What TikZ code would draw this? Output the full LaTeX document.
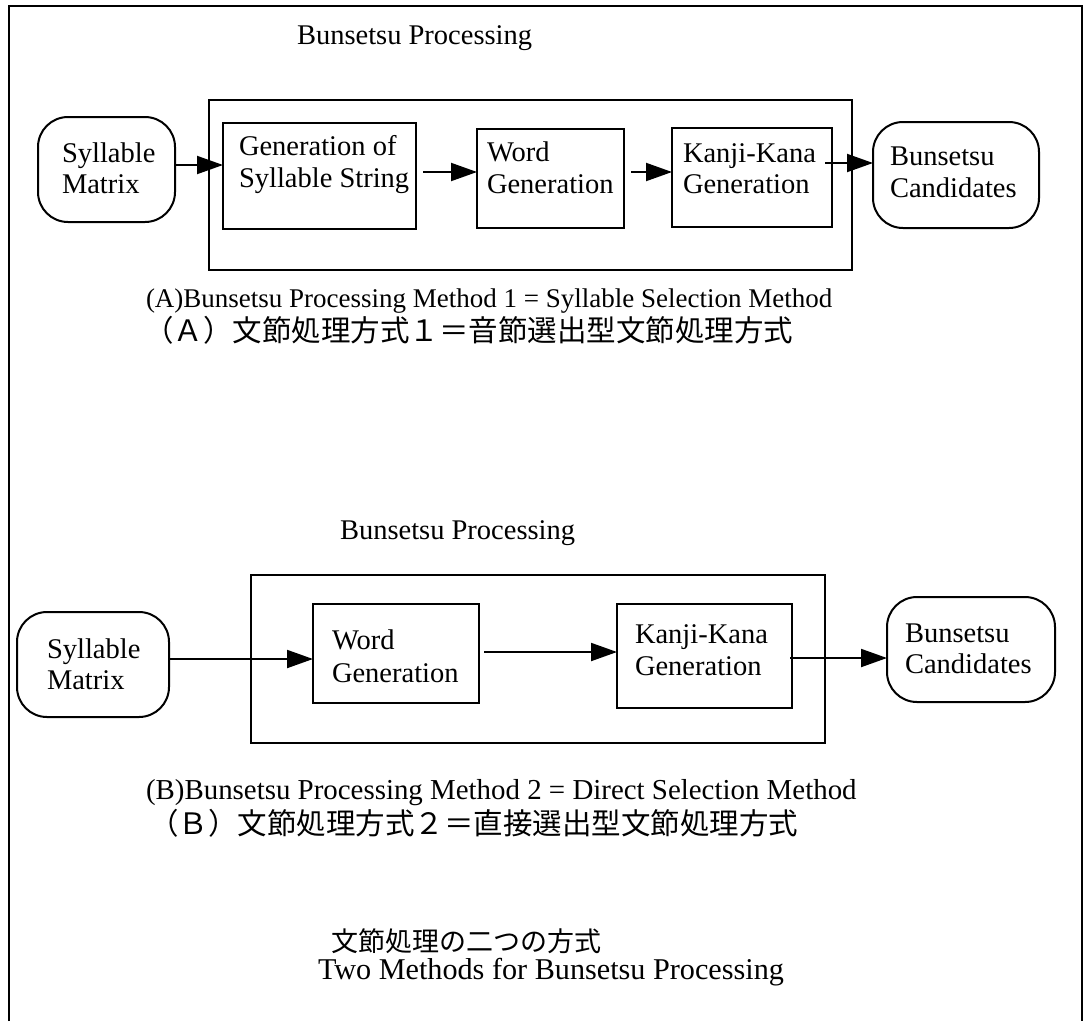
\documentclass[tikz,border=0pt]{standalone}
\usepackage{fontspec}
\setmainfont{Liberation Serif}
\newfontfamily\jpfont{Noto Sans CJK JP}
\usetikzlibrary{arrows.meta,calc}
\begin{document}
\begin{tikzpicture}[x=1pt,y=-1pt,
  every node/.style={inner sep=0pt,outer sep=0pt},
  frameline/.style={line width=2pt},
  box/.style={draw,line width=2pt,rectangle},
  rbox/.style={draw,line width=2pt,rectangle,rounded corners=30pt},
  txt/.style={anchor=base west,font=\fontsize{28.5}{31}\selectfont},
  jtxt/.style={anchor=base west,font=\jpfont\fontsize{29.5}{31}\selectfont},
  arr/.style={line width=2pt,-{Triangle[length=26pt,width=18pt]}}]
\useasboundingbox (0,0) rectangle (1084,1021);

% page frame (open at the bottom)
\draw[frameline] (9,1021) -- (9,6) -- (1082,6) -- (1082,1021);

% ---------- (A) syllable selection method ----------
\node[txt] (titleA) at (297,44) {Bunsetsu Processing};
\node[box,minimum width=643pt,minimum height=170pt] (outerA) at (530.5,185) {};

\node[rbox,minimum width=137pt,minimum height=105pt] (smA) at (106.5,169.5) {};
\node[txt] (smA1) at (62,162) {Syllable};
\node[txt] (smA2) at (62,193) {Matrix};

\node[box,minimum width=193pt,minimum height=106pt] (genA) at (319.5,176) {};
\node[txt] (genA1) at (239,155) {Generation of};
\node[txt] (genA2) at (239,187) {Syllable String};

\node[box,minimum width=147pt,minimum height=99pt] (wordA) at (550.5,178.5) {};
\node[txt] (wordA1) at (487,161) {Word};
\node[txt] (wordA2) at (487,193) {Generation};

\node[box,minimum width=160pt,minimum height=99pt] (kkA) at (752,177.5) {};
\node[txt] (kkA1) at (683,162) {Kanji-Kana};
\node[txt] (kkA2) at (683,193) {Generation};

\node[rbox,minimum width=166pt,minimum height=106pt] (bcA) at (956,175) {};
\node[txt] (bcA1) at (890,165) {Bunsetsu};
\node[txt] (bcA2) at (890,197) {Candidates};

\draw[arr] (smA.east |- 0,165) -- (genA.west |- 0,165);
\draw[arr] ($(genA.east |- 0,172)+(7,0)$) -- (wordA.west |- 0,172);
\draw[arr] ($(wordA.east |- 0,172)+(7,0)$) -- (kkA.west |- 0,172);
\draw[arr] ($(kkA.east |- 0,163)+(-7,0)$) -- (bcA.west |- 0,163);

\node[txt,font=\fontsize{27}{31}\selectfont] (capA) at (146,307) {(A)Bunsetsu Processing Method 1 = Syllable Selection Method};
\node[jtxt] (capAj) at (144,341) {（Ａ）文節処理方式１＝音節選出型文節処理方式};

% ---------- (B) direct selection method ----------
\node[txt] (titleB) at (340,539) {Bunsetsu Processing};
\node[box,minimum width=574pt,minimum height=168pt] (outerB) at (538,659) {};

\node[rbox,minimum width=152pt,minimum height=105pt] (smB) at (93,664.5) {};
\node[txt] (smB1) at (47,658) {Syllable};
\node[txt] (smB2) at (47,689) {Matrix};

\node[box,minimum width=166pt,minimum height=99pt] (wordB) at (396,653.5) {};
\node[txt] (wordB1) at (332,649) {Word};
\node[txt] (wordB2) at (332,682) {Generation};

\node[box,minimum width=175pt,minimum height=104pt] (kkB) at (704.5,656) {};
\node[txt] (kkB1) at (635,643) {Kanji-Kana};
\node[txt] (kkB2) at (635,675) {Generation};

\node[rbox,minimum width=168pt,minimum height=105pt] (bcB) at (971,649.5) {};
\node[txt] (bcB1) at (905,642) {Bunsetsu};
\node[txt] (bcB2) at (905,673) {Candidates};

\draw[arr] (smB.east |- 0,659) -- (wordB.west |- 0,659);
\draw[arr] ($(wordB.east |- 0,652)+(5,0)$) -- (kkB.west |- 0,652);
\draw[arr] ($(kkB.east |- 0,658)+(-2,0)$) -- (bcB.west |- 0,658);

\node[txt,font=\fontsize{28.9}{31}\selectfont] (capB) at (146,799) {(B)Bunsetsu Processing Method 2 = Direct Selection Method};
\node[jtxt] (capBj) at (149,834) {（Ｂ）文節処理方式２＝直接選出型文節処理方式};

% ---------- figure title ----------
\node[jtxt,font=\jpfont\fontsize{27}{30}\selectfont] (figj) at (331,951) {文節処理の二つの方式};
\node[txt,font=\fontsize{30.2}{31}\selectfont] (fige) at (318,979) {Two Methods for Bunsetsu Processing};
\end{tikzpicture}
\end{document}
